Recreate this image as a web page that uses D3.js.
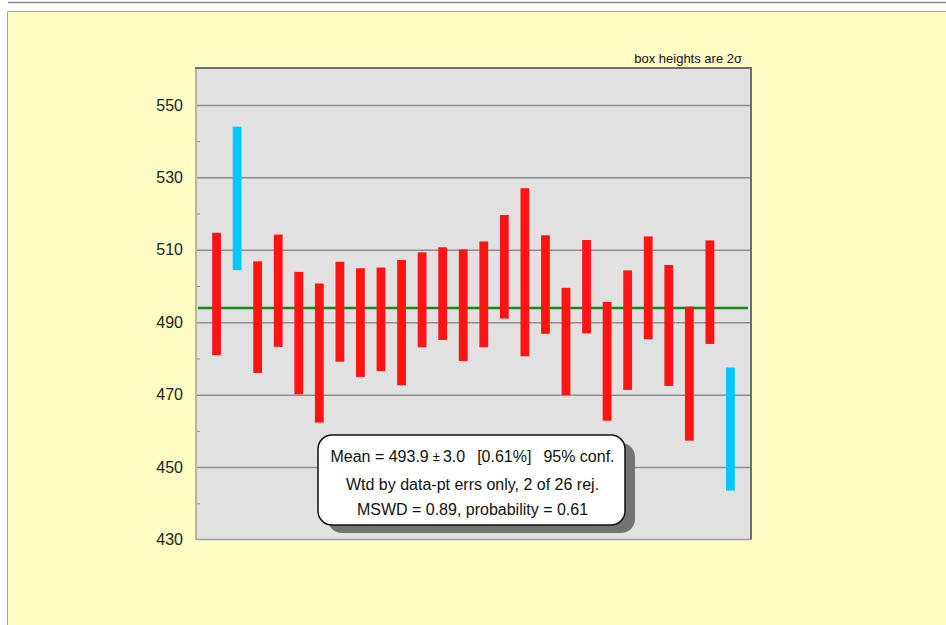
<!DOCTYPE html>
<html>
<head>
<meta charset="utf-8">
<script src="https://cdn.jsdelivr.net/npm/d3@7/dist/d3.min.js"></script>
<style>
  html, body { margin: 0; padding: 0; background: #ffffff; }
  svg { display: block; }
  text { font-family: "Liberation Sans", Arial, sans-serif; }
  .pre { white-space: pre; }
</style>
</head>
<body>
<svg id="chart" width="946" height="625"></svg>
<script>
// Weighted-mean plot: each box spans value ± err
const values = [497.8, 524.2, 491.4, 498.7, 487.0, 481.5, 492.9, 489.9, 490.8, 489.9,
                496.2, 497.9, 494.7, 497.7, 505.3, 503.8, 500.4, 484.7, 499.8, 479.2,
                487.8, 499.5, 489.1, 475.8, 498.3, 460.5];
const errors = [16.9, 19.8, 15.4, 15.5, 16.9, 19.2, 13.8, 15.0, 14.3, 17.3,
                13.1, 12.8, 15.4, 14.6, 14.3, 23.2, 13.6, 14.8, 12.9, 16.4,
                16.5, 14.2, 16.7, 18.5, 14.3, 17.0];
// 1-based positions of the points excluded from the mean
const rejected = [2, 26];
const meanValue = 493.9;
const yTickLabels = [430, 450, 470, 490, 510, 530, 550];
const yMinorTicks = [440, 460, 480, 500, 520, 540];
const statLines = [
  ["Mean = 493.9", "±", "3.0", "[0.61%]", "95% conf."],
  ["Wtd by data-pt errs only, 2 of 26 rej."],
  ["MSWD = 0.89, probability = 0.61"]
];
const cornerNote = "box heights are 2σ";

const svg = d3.select("#chart");

// page frame
svg.append("line").attr("x1", 8).attr("x2", 946).attr("y1", 2.5).attr("y2", 2.5)
  .attr("stroke", "#8a8a8a").attr("stroke-width", 1.5);
svg.append("rect").attr("x", 7.5).attr("y", 11.5).attr("width", 950).attr("height", 630)
  .attr("fill", "#fffcc4").attr("stroke", "#a8a89a").attr("stroke-width", 1);

const plot = { left: 196, right: 751, top: 68, bottom: 539.5 };

const x = d3.scaleLinear().domain([0, values.length + 1]).range([plot.left, plot.right]);
const y = d3.scaleLinear().domain([430, 560.2]).range([plot.bottom, plot.top]);

// plot background
svg.append("rect")
  .attr("x", plot.left).attr("y", plot.top)
  .attr("width", plot.right - plot.left).attr("height", plot.bottom - plot.top)
  .attr("fill", "#e1e1e1");

// gridlines
svg.append("g")
  .attr("transform", `translate(${plot.left},0)`)
  .call(d3.axisLeft(y).tickValues(yTickLabels.slice(1)).tickSize(-(plot.right - plot.left)).tickFormat(""))
  .call(g => g.select(".domain").remove())
  .call(g => g.selectAll("line").attr("stroke", "#8e8e8e").attr("stroke-width", 1.5));

// minor ticks
svg.append("g")
  .attr("transform", `translate(${plot.left},0)`)
  .call(d3.axisRight(y).tickValues(yMinorTicks).tickSize(4).tickFormat(""))
  .call(g => g.select(".domain").remove())
  .call(g => g.selectAll("line").attr("stroke", "#8e8e8e").attr("stroke-width", 1));

// tick labels
svg.append("g")
  .attr("transform", `translate(${plot.left},0)`)
  .call(d3.axisLeft(y).tickValues(yTickLabels).tickSize(0).tickPadding(13).tickFormat(d3.format("d")))
  .call(g => g.select(".domain").remove())
  .call(g => g.selectAll("text").attr("fill", "#222").attr("font-size", 16)
    .attr("font-family", "Liberation Sans, Arial, sans-serif"));

// plot border
svg.append("line").attr("x1", plot.left).attr("x2", plot.left).attr("y1", plot.top).attr("y2", plot.bottom)
  .attr("stroke", "#b5b5a0").attr("stroke-width", 2);
svg.append("line").attr("x1", plot.left).attr("x2", plot.right).attr("y1", plot.bottom).attr("y2", plot.bottom)
  .attr("stroke", "#a0a0a0").attr("stroke-width", 1.5);
svg.append("line").attr("x1", plot.left - 1).attr("x2", plot.right + 1).attr("y1", plot.top).attr("y2", plot.top)
  .attr("stroke", "#6e6e6e").attr("stroke-width", 2);
svg.append("line").attr("x1", plot.right).attr("x2", plot.right).attr("y1", plot.top).attr("y2", plot.bottom)
  .attr("stroke", "#6e6e6e").attr("stroke-width", 2);

// mean line
svg.append("line")
  .attr("x1", plot.left + 2).attr("x2", plot.right - 3)
  .attr("y1", y(meanValue)).attr("y2", y(meanValue))
  .attr("stroke", "#138a13").attr("stroke-width", 2.5);

// error boxes
const data = values.map((v, i) => ({ i: i + 1, v, e: errors[i], rej: rejected.includes(i + 1) }));
const boxW = 8.8;
svg.append("g").selectAll("rect").data(data).join("rect")
  .attr("x", d => x(d.i) - boxW / 2)
  .attr("y", d => y(d.v + d.e))
  .attr("width", boxW)
  .attr("height", d => y(d.v - d.e) - y(d.v + d.e))
  .attr("fill", d => d.rej ? "#00c8ff" : "#ff1414");

// corner note
svg.append("text").attr("x", 742).attr("y", 63).attr("text-anchor", "end")
  .attr("font-size", 13).attr("fill", "#111").text(cornerNote);

// statistics box
const box = { x: 318, y: 435, w: 307, h: 90, r: 14 };
svg.append("rect")
  .attr("x", box.x + 10).attr("y", box.y + 8).attr("width", box.w).attr("height", box.h)
  .attr("rx", box.r).attr("fill", "#737373");
svg.append("rect")
  .attr("x", box.x).attr("y", box.y).attr("width", box.w).attr("height", box.h)
  .attr("rx", box.r).attr("fill", "#ffffff").attr("stroke", "#111").attr("stroke-width", 1.5);

const baselines = [462, 490, 515];
// horizontal offsets before each piece of the first line (the ± sign is set smaller)
const gaps = [0, 4, 3, 12, 12];
statLines.forEach((parts, k) => {
  const t = svg.append("text").attr("class", "pre")
    .attr("x", box.x + box.w / 2 + 1).attr("y", baselines[k])
    .attr("text-anchor", "middle").attr("font-size", 16).attr("fill", "#111");
  parts.forEach((p, j) => {
    const ts = t.append("tspan").text(p);
    if (j > 0) ts.attr("dx", gaps[j]);
    if (p === "±") ts.attr("font-size", 13).attr("dy", -1);
    else if (j === 2) ts.attr("dy", 1);
  });
});
</script>
</body>
</html>
